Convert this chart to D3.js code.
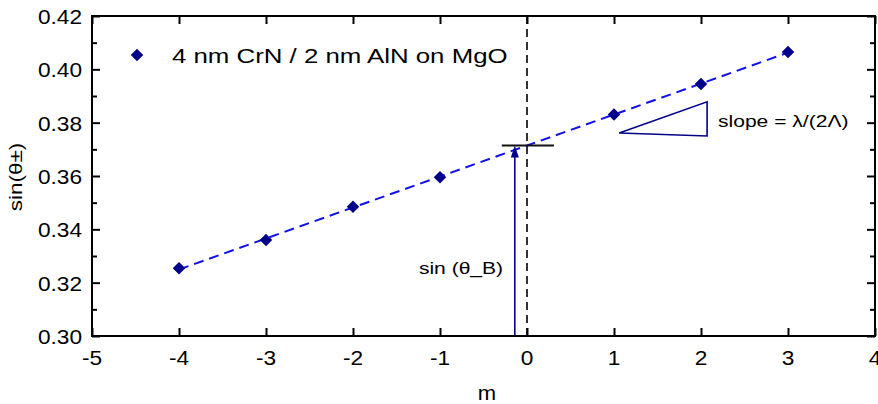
<!DOCTYPE html>
<html>
<head>
<meta charset="utf-8">
<script src="https://cdn.jsdelivr.net/npm/d3@7/dist/d3.min.js"></script>
<style>
  html, body { margin: 0; padding: 0; background: #fff; }
  svg { display: block; font-family: "Liberation Sans", Arial, sans-serif; }
</style>
</head>
<body>
<svg id="chart" width="878" height="404"></svg>
<script>
// Diffraction satellite orders and the measured sin(theta) of each peak
const orders = [-4, -3, -2, -1, 1, 2, 3];
const sinTheta = [0.3254, 0.3360, 0.3485, 0.3595, 0.3831, 0.3945, 0.4065];

const xTicks = [-5, -4, -3, -2, -1, 0, 1, 2, 3, 4];
const yTicks = [0.30, 0.32, 0.34, 0.36, 0.38, 0.40, 0.42];
const yMinorTicks = [0.31, 0.33, 0.35, 0.37, 0.39, 0.41];

const legendLabel = "4 nm CrN / 2 nm AlN on MgO";
const xLabel = "m";
const yLabel = "sin(θ±)";
const braggLabel = "sin (θ_B)";
const slopeLabel = "slope = λ/(2Λ)";

// Slope triangle corners (m, sin θ) and position of the sin(θ_B) arrow
const slopeTriangle = [[1.06, 0.3761], [2.07, 0.3878], [2.07, 0.3750]];
const arrowOrder = -0.14;
const braggTick = [-0.29, 0.31];

const svg = d3.select("#chart");
const plotLeft = 92, plotRight = 875, plotTop = 16, plotBottom = 336;

const x = d3.scaleLinear().domain([-5, 4]).range([plotLeft, plotRight]);
const y = d3.scaleLinear().domain([0.30, 0.42]).range([plotBottom, plotTop]);

const NAVY = "#00008b";
const BLUE = "#1010e8";

// Text drawn slightly wide along its own direction
function wideText(g, str, tx, ty, size, sx, anchor, rotate) {
  return g.append("text")
    .attr("transform", `translate(${tx},${ty})` + (rotate ? ` rotate(${rotate})` : "") + ` scale(${sx},1)`)
    .attr("font-size", size)
    .attr("text-anchor", anchor || "start")
    .attr("fill", "#000")
    .text(str);
}

// Least-squares line through the measured points
const n = orders.length;
const mx = d3.mean(orders), my = d3.mean(sinTheta);
let sxy = 0, sxx = 0;
for (let i = 0; i < n; i++) {
  sxy += (orders[i] - mx) * (sinTheta[i] - my);
  sxx += (orders[i] - mx) ** 2;
}
const slope = sxy / sxx;
const intercept = my - slope * mx;
const fit = m => intercept + slope * m;

// Axes with inward ticks on all four sides
const axes = svg.append("g");
function tickRow(axisFn, scale, values, size, tx, ty) {
  axes.append("g").attr("transform", `translate(${tx},${ty})`)
    .call(axisFn(scale).tickValues(values).tickSize(-size).tickFormat(""))
    .call(g => g.select(".domain").remove());
}
tickRow(d3.axisBottom, x, xTicks, 8, 0, plotBottom);
tickRow(d3.axisTop, x, xTicks, 8, 0, plotTop);
tickRow(d3.axisLeft, y, yTicks, 8, plotLeft, 0);
tickRow(d3.axisLeft, y, yMinorTicks, 5, plotLeft, 0);
tickRow(d3.axisRight, y, yTicks, 8, plotRight, 0);
tickRow(d3.axisRight, y, yMinorTicks, 5, plotRight, 0);
axes.selectAll(".tick line").attr("stroke", "#000").attr("stroke-width", 2);

// Tick labels
const labels = svg.append("g");
yTicks.forEach(v => {
  wideText(labels, d3.format(".2f")(v), 82, y(v) + 8, 21, 1.08, "end");
});
xTicks.forEach(v => {
  wideText(labels, String(v), x(v), 365, 21, 1.08, "middle");
});
wideText(labels, xLabel, 487, 400, 20, 1.1, "middle");
wideText(labels, yLabel, 22, 177, 18, 1.25, "middle", -90);

// Vertical dashed line at m = 0
svg.append("line")
  .attr("x1", x(0)).attr("x2", x(0)).attr("y1", plotTop).attr("y2", plotBottom)
  .attr("stroke", "#000").attr("stroke-width", 1.6).attr("stroke-dasharray", "8,5");

// Fitted dashed line
svg.append("line")
  .attr("x1", x(orders[0])).attr("y1", y(fit(orders[0])))
  .attr("x2", x(orders[n - 1])).attr("y2", y(fit(orders[n - 1])))
  .attr("stroke", BLUE).attr("stroke-width", 2).attr("stroke-dasharray", "10,6");

// Horizontal marker at the intercept
svg.append("line")
  .attr("x1", x(braggTick[0])).attr("x2", x(braggTick[1]))
  .attr("y1", y(intercept)).attr("y2", y(intercept))
  .attr("stroke", "#111").attr("stroke-width", 2);

// Arrow up to sin(θ_B)
const ax = x(arrowOrder), tipY = y(intercept);
svg.append("line")
  .attr("x1", ax).attr("x2", ax).attr("y1", plotBottom).attr("y2", tipY + 10)
  .attr("stroke", NAVY).attr("stroke-width", 1.6);
svg.append("path")
  .attr("d", `M${ax},${tipY} L${ax - 4},${tipY + 12} L${ax + 4},${tipY + 12} Z`)
  .attr("fill", NAVY);
wideText(svg, braggLabel, 461, 274, 17, 1.24, "middle");

// Slope triangle
svg.append("path")
  .attr("d", d3.line().x(d => x(d[0])).y(d => y(d[1])).curve(d3.curveLinearClosed)(slopeTriangle))
  .attr("fill", "none").attr("stroke", NAVY).attr("stroke-width", 1.6);
wideText(svg, slopeLabel, 718, 127, 17, 1.24, "start");

// Data markers
const diamond = d3.symbol().type(d3.symbolDiamond2).size(100);
svg.append("g").selectAll("path")
  .data(orders.map((m, i) => [m, sinTheta[i]]))
  .join("path")
  .attr("d", diamond)
  .attr("transform", d => `translate(${x(d[0])},${y(d[1])})`)
  .attr("fill", NAVY);

// Legend
svg.append("path").attr("d", diamond).attr("transform", "translate(137,55)").attr("fill", NAVY);
wideText(svg, legendLabel, 172, 63, 21, 1.23, "start");

// Plot frame
svg.append("rect")
  .attr("x", plotLeft).attr("y", plotTop).attr("width", plotRight - plotLeft).attr("height", plotBottom - plotTop)
  .attr("fill", "none").attr("stroke", "#000").attr("stroke-width", 2);
</script>
</body>
</html>
